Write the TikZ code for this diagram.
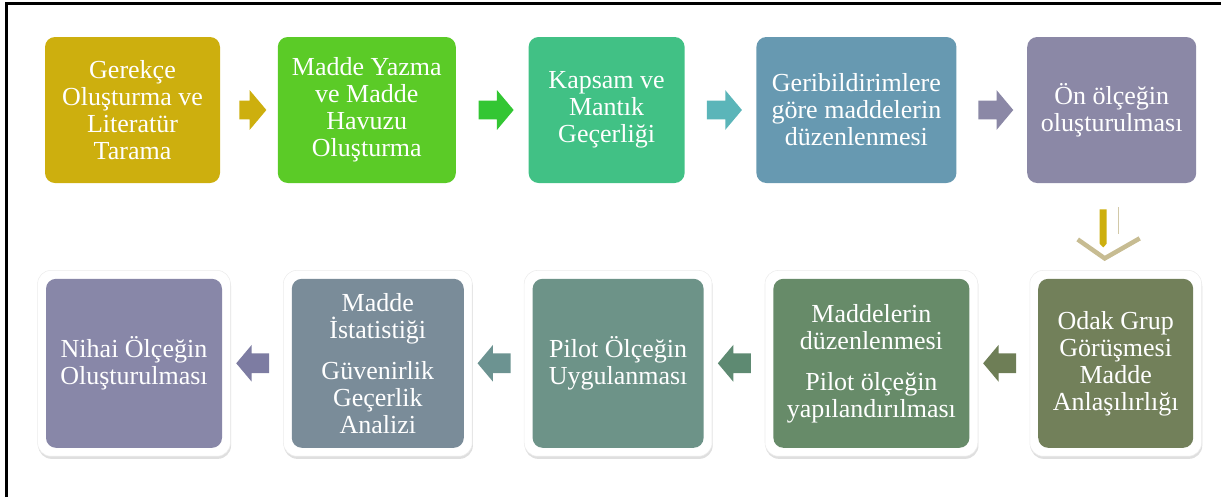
\documentclass[tikz,border=0pt]{standalone}
\usepackage{fontspec}
\setmainfont{Liberation Serif}
\usetikzlibrary{positioning,calc,fit,backgrounds,shadows,shapes.arrows}

\definecolor{gold}{HTML}{CDAF0E}
\definecolor{lime}{HTML}{5BCB27}
\definecolor{limearr}{HTML}{33C633}
\definecolor{jade}{HTML}{41C185}
\definecolor{steel}{HTML}{6799B1}
\definecolor{teal}{HTML}{5BB5B9}
\definecolor{lilac}{HTML}{8B88A6}
\definecolor{olive}{HTML}{72805A}
\definecolor{olivearr}{HTML}{6E7E56}
\definecolor{sage}{HTML}{678B69}
\definecolor{sagearr}{HTML}{5E8A72}
\definecolor{seagrey}{HTML}{6D9388}
\definecolor{seaarr}{HTML}{6C9391}
\definecolor{slate}{HTML}{7A8C99}
\definecolor{slatearr}{HTML}{7D7CA2}
\definecolor{dusk}{HTML}{8887A8}
\definecolor{khaki}{HTML}{C7BC92}

\begin{document}
\begin{tikzpicture}[font=\fontsize{19.5pt}{20.25pt}\selectfont,
            semithick]
        \tikzset{
          stage/.style={rounded corners=7.5pt,text=white,align=center,
            inner sep=0pt,minimum height=109.5pt},
          late/.style={stage,minimum height=126.75pt},
          halo/.style={fill=white,draw=gray!15,thin,rounded corners=10pt,
            inner sep=6pt,drop shadow={opacity=.25,shadow xshift=.5pt,
            shadow yshift=-2pt}},
          rarr/.style={single arrow,fill=#1,draw=none,inner sep=0pt,
            inner ysep=6.75pt,single arrow head extend=7.875pt,
            single arrow tip angle=100,minimum width=29.25pt,
            minimum height=26.25pt},
          larr/.style={single arrow,shape border rotate=180,fill=#1,
            draw=none,inner sep=0pt,inner ysep=7.125pt,
            single arrow head extend=6.375pt,single arrow tip angle=100,
            minimum width=27pt,minimum height=24.75pt}
        }
        \useasboundingbox (0,0) rectangle (915.75pt,-372.75pt);

        % frame
        \coordinate (fl) at (4.5pt,-372.75pt);
        \coordinate (fc) at (4.5pt,-2.25pt);
        \coordinate (fr) at (915.75pt,-2.25pt);
        \draw[line width=2.25pt] (fl) -- (fc) -- (fr);

        % top row
        \node[stage, fill=gold, minimum width=131.25pt] (ger) at (99.375pt,-82.5pt)
            {Gerekçe\\Oluşturma ve\\Literatür\\Tarama};
        \node[stage, fill=lime, minimum width=133.5pt] (mad) [right=42.75pt of ger]
            {Madde Yazma\\ve Madde\\Havuzu\\Oluşturma};
        \node[stage, fill=jade, minimum width=117pt] (kap) [right=54pt of mad]
            {Kapsam ve\\Mantık\\Geçerliği};
        \node[stage, fill=steel, minimum width=150pt] (ger2) [right=53.25pt of kap]
            {Geribildirimlere\\göre maddelerin\\düzenlenmesi};
        \node[stage, fill=lilac, minimum width=126.75pt] (ont) [right=52.5pt of ger2]
            {Ön ölçeğin\\oluşturulması};

        % bottom row
        \node[late, fill=olive, minimum width=116.25pt] (oda) [below=71.25pt of ont, xshift=3pt]
            {Odak Grup\\Görüşmesi\\Madde\\Anlaşılırlığı};
        \node[late, fill=sage, minimum width=147pt] (duz) [left=51pt of oda]
            {Maddelerin\\düzenlenmesi\\[10.5pt]Pilot ölçeğin\\yapılandırılması};
        \node[late, fill=seagrey, minimum width=128.25pt] (pil) [left=51.75pt of duz]
            {Pilot Ölçeğin\\Uygulanması};
        \node[late, fill=slate, minimum width=129pt] (ist) [left=51pt of pil]
            {Madde\\İstatistiği\\[10.5pt]Güvenirlik\\Geçerlik\\Analizi};
        \node[late, fill=dusk, minimum width=132pt] (nih) [left=51.75pt of ist]
            {Nihai Ölçeğin\\Oluşturulması};

        \begin{scope}[on background layer]
          \foreach \b in {oda,duz,pil,ist,nih}
            \node[halo, fit=(\b)] (h-\b) {};
        \end{scope}

        % arrows
        \node[rarr=gold, minimum height=20.25pt] (r1) at ($(ger.east)!.5!(mad.west)$) {};
        \node[rarr=limearr] (r2) at ($(mad.east)!.5!(kap.west)$) {};
        \node[rarr=teal] (r3) at ($(kap.east)!.5!(ger2.west)$) {};
        \node[rarr=lilac] (r4) at ($(ger2.east)!.5!(ont.west)$) {};

        \node[larr=olivearr] (l1) at ($(oda.west)!.5!(duz.east)$) {};
        \node[larr=sagearr] (l2) at ($(duz.west)!.5!(pil.east)$) {};
        \node[larr=seaarr] (l3) at ($(pil.west)!.5!(ist.east)$) {};
        \node[larr=slatearr] (l4) at ($(ist.west)!.5!(nih.east)$) {};

        % down arrow
        \coordinate (dn) at ($(ont.south)!.5!(oda.north)$);
        \begin{scope}[shift={(dn)}]
          \fill[gold] (-10.5pt,16.1pt) -- (-5.25pt,16.1pt) -- (-5.25pt,-9.6pt)
            -- (-7.9pt,-12.4pt) -- (-10.5pt,-9.6pt) -- cycle;
          \draw[khaki!80, line width=1.1pt] (3.75pt,17.6pt) -- (3.75pt,-2.6pt);
          \draw[khaki, line width=3.4pt] (-27pt,-6.4pt) -- (-6.75pt,-20.6pt) -- (19.5pt,-5.6pt);
        \end{scope}
    \end{tikzpicture}
\end{document}
